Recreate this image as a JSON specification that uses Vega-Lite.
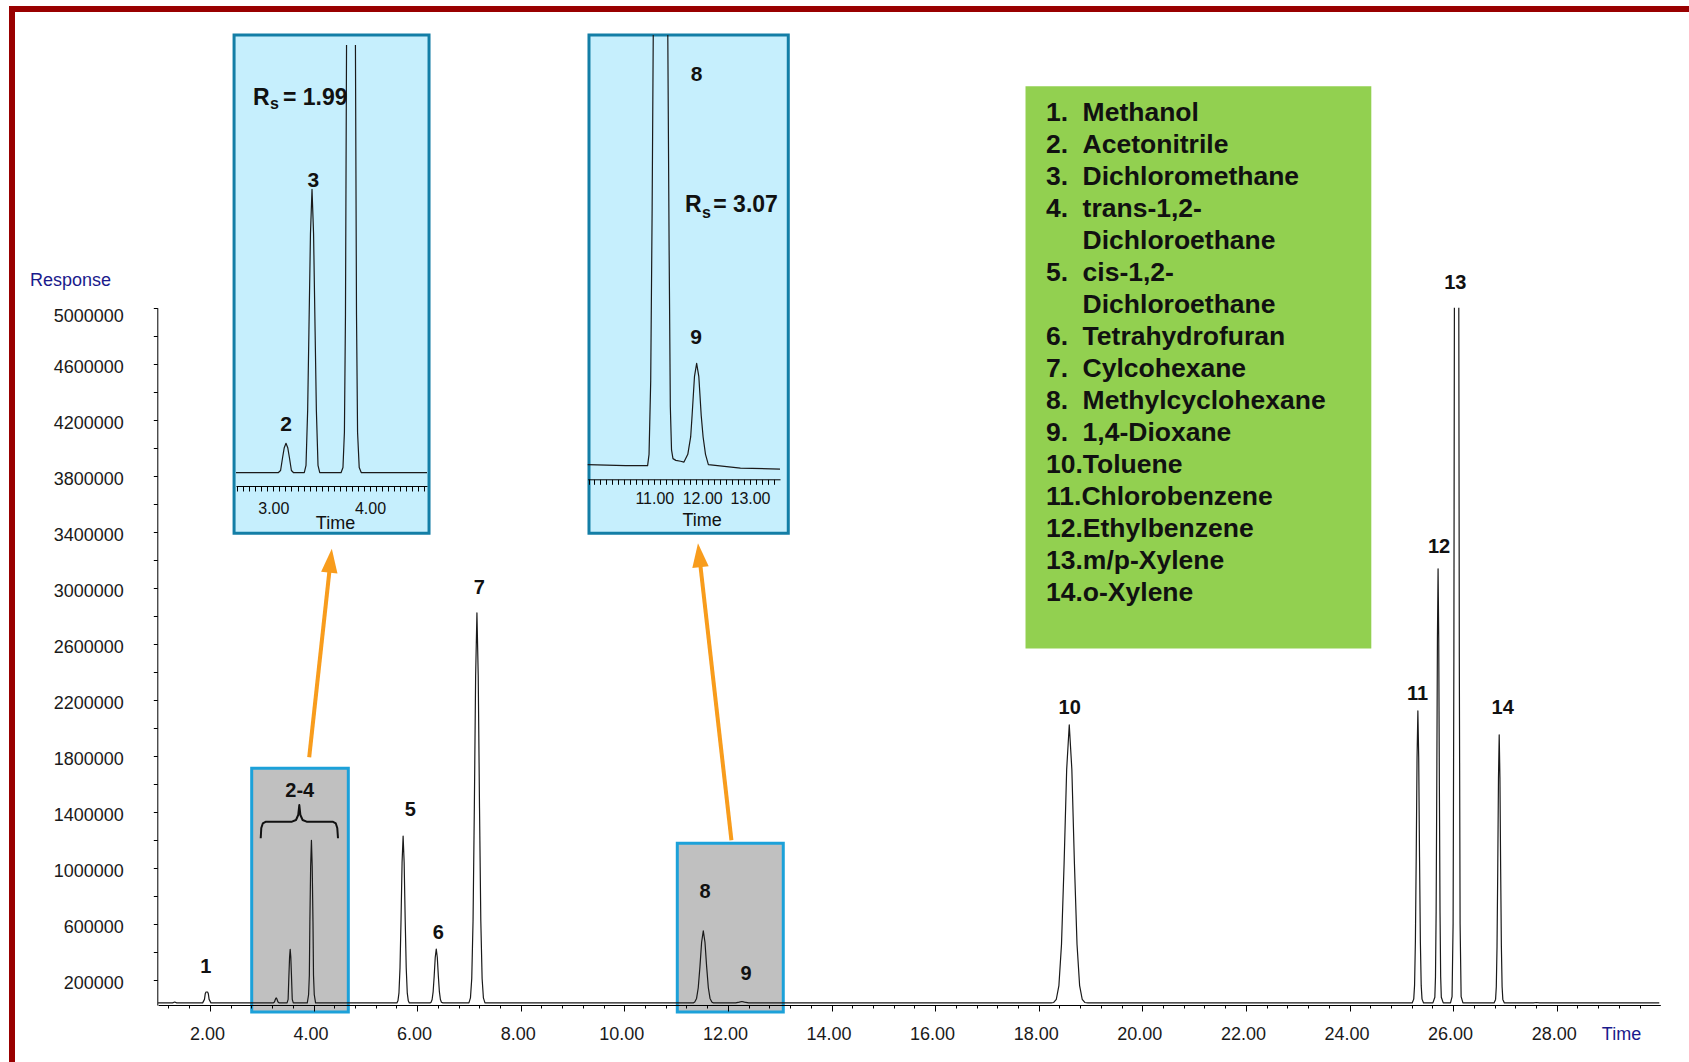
{
  "$schema": "https://vega.github.io/schema/vega-lite/v6.json",
  "width": 1677,
  "height": 1053,
  "autosize": {"type": "none"},
  "padding": {"left": 12, "top": 9, "right": 0, "bottom": 0},
  "background": "#ffffff",
  "config": {
    "view": {"stroke": "#990000", "strokeWidth": 6, "strokeDash": [1677, 2730, 1053], "strokeCap": "square"},
    "font": "Liberation Sans"
  },
  "datasets": {
    "boxes": [
      {"t": 2.807, "t2": 4.672, "r": 1710500, "r2": -30000},
      {"t": 11.023, "t2": 13.069, "r": 1174900, "r2": -30000}
    ],
    "trace": [
      {"t": 1.0, "r": 35000, "seg": "a"}, {"t": 1.28, "r": 35000, "seg": "a"}, {"t": 1.32, "r": 41000, "seg": "a"}, {"t": 1.36, "r": 35000, "seg": "a"},
      {"t": 1.86, "r": 35000, "seg": "a"}, {"t": 1.895, "r": 60000, "seg": "a"}, {"t": 1.91, "r": 100000, "seg": "a"}, {"t": 1.925, "r": 113000, "seg": "a"}, {"t": 1.955, "r": 113000, "seg": "a"}, {"t": 1.97, "r": 100000, "seg": "a"}, {"t": 1.985, "r": 60000, "seg": "a"}, {"t": 2.02, "r": 35000, "seg": "a"},
      {"t": 3.22, "r": 35000, "seg": "a"}, {"t": 3.245, "r": 42000, "seg": "a"}, {"t": 3.26, "r": 55000, "seg": "a"}, {"t": 3.27, "r": 66000, "seg": "a"}, {"t": 3.28, "r": 70000, "seg": "a"}, {"t": 3.29, "r": 66000, "seg": "a"}, {"t": 3.30, "r": 55000, "seg": "a"}, {"t": 3.315, "r": 42000, "seg": "a"}, {"t": 3.34, "r": 35000, "seg": "a"},
      {"t": 3.49, "r": 35000, "seg": "a"}, {"t": 3.51, "r": 60000, "seg": "a"}, {"t": 3.525, "r": 227000, "seg": "a"}, {"t": 3.538, "r": 360000, "seg": "a"}, {"t": 3.55, "r": 418000, "seg": "a"}, {"t": 3.562, "r": 360000, "seg": "a"}, {"t": 3.575, "r": 227000, "seg": "a"}, {"t": 3.59, "r": 60000, "seg": "a"}, {"t": 3.61, "r": 35000, "seg": "a"},
      {"t": 3.88, "r": 35000, "seg": "a"}, {"t": 3.905, "r": 93000, "seg": "a"}, {"t": 3.92, "r": 232000, "seg": "a"}, {"t": 3.93, "r": 615000, "seg": "a"}, {"t": 3.945, "r": 1010000, "seg": "a"}, {"t": 3.96, "r": 1196000, "seg": "a"}, {"t": 3.975, "r": 1010000, "seg": "a"}, {"t": 3.99, "r": 615000, "seg": "a"}, {"t": 4.0, "r": 232000, "seg": "a"}, {"t": 4.015, "r": 93000, "seg": "a"}, {"t": 4.04, "r": 35000, "seg": "a"},
      {"t": 5.61, "r": 35000, "seg": "a"}, {"t": 5.63, "r": 50000, "seg": "a"}, {"t": 5.65, "r": 107000, "seg": "a"}, {"t": 5.67, "r": 285000, "seg": "a"}, {"t": 5.69, "r": 631000, "seg": "a"}, {"t": 5.71, "r": 1037000, "seg": "a"}, {"t": 5.73, "r": 1227000, "seg": "a"}, {"t": 5.75, "r": 1037000, "seg": "a"}, {"t": 5.77, "r": 631000, "seg": "a"}, {"t": 5.79, "r": 285000, "seg": "a"}, {"t": 5.81, "r": 107000, "seg": "a"}, {"t": 5.83, "r": 50000, "seg": "a"}, {"t": 5.85, "r": 35000, "seg": "a"},
      {"t": 6.25, "r": 35000, "seg": "a"}, {"t": 6.27, "r": 40000, "seg": "a"}, {"t": 6.29, "r": 59000, "seg": "a"}, {"t": 6.31, "r": 116000, "seg": "a"}, {"t": 6.33, "r": 227000, "seg": "a"}, {"t": 6.35, "r": 359000, "seg": "a"}, {"t": 6.37, "r": 420000, "seg": "a"}, {"t": 6.39, "r": 359000, "seg": "a"}, {"t": 6.41, "r": 227000, "seg": "a"}, {"t": 6.43, "r": 116000, "seg": "a"}, {"t": 6.45, "r": 59000, "seg": "a"}, {"t": 6.47, "r": 40000, "seg": "a"}, {"t": 6.5, "r": 35000, "seg": "a"},
      {"t": 7.0, "r": 35000, "seg": "a"}, {"t": 7.03, "r": 71000, "seg": "a"}, {"t": 7.055, "r": 209000, "seg": "a"}, {"t": 7.08, "r": 620000, "seg": "a"}, {"t": 7.105, "r": 1427000, "seg": "a"}, {"t": 7.13, "r": 2374000, "seg": "a"}, {"t": 7.155, "r": 2820000, "seg": "a"}, {"t": 7.18, "r": 2374000, "seg": "a"}, {"t": 7.205, "r": 1427000, "seg": "a"}, {"t": 7.23, "r": 620000, "seg": "a"}, {"t": 7.255, "r": 209000, "seg": "a"}, {"t": 7.28, "r": 71000, "seg": "a"}, {"t": 7.31, "r": 35000, "seg": "a"},
      {"t": 11.33, "r": 35000, "seg": "a"}, {"t": 11.36, "r": 42000, "seg": "a"}, {"t": 11.395, "r": 67000, "seg": "a"}, {"t": 11.4275, "r": 143000, "seg": "a"}, {"t": 11.46, "r": 292000, "seg": "a"}, {"t": 11.4925, "r": 468000, "seg": "a"}, {"t": 11.525, "r": 550000, "seg": "a"}, {"t": 11.5575, "r": 468000, "seg": "a"}, {"t": 11.59, "r": 292000, "seg": "a"}, {"t": 11.6225, "r": 143000, "seg": "a"}, {"t": 11.655, "r": 67000, "seg": "a"}, {"t": 11.69, "r": 42000, "seg": "a"}, {"t": 11.72, "r": 35000, "seg": "a"},
      {"t": 12.15, "r": 35000, "seg": "a"}, {"t": 12.22, "r": 40000, "seg": "a"}, {"t": 12.27, "r": 45000, "seg": "a"}, {"t": 12.32, "r": 40000, "seg": "a"}, {"t": 12.4, "r": 35000, "seg": "a"},
      {"t": 18.24, "r": 35000, "seg": "a"}, {"t": 18.29, "r": 38000, "seg": "a"}, {"t": 18.34, "r": 61000, "seg": "a"}, {"t": 18.39, "r": 159000, "seg": "a"}, {"t": 18.44, "r": 452000, "seg": "a"}, {"t": 18.49, "r": 1027000, "seg": "a"}, {"t": 18.54, "r": 1702000, "seg": "a"}, {"t": 18.59, "r": 2020000, "seg": "a"}, {"t": 18.64, "r": 1702000, "seg": "a"}, {"t": 18.69, "r": 1027000, "seg": "a"}, {"t": 18.74, "r": 452000, "seg": "a"}, {"t": 18.79, "r": 159000, "seg": "a"}, {"t": 18.84, "r": 61000, "seg": "a"}, {"t": 18.89, "r": 38000, "seg": "a"}, {"t": 18.95, "r": 35000, "seg": "a"},
      {"t": 25.21, "r": 35000, "seg": "a"}, {"t": 25.24, "r": 62000, "seg": "a"}, {"t": 25.256, "r": 160000, "seg": "a"}, {"t": 25.272, "r": 473000, "seg": "a"}, {"t": 25.288, "r": 1077000, "seg": "a"}, {"t": 25.304, "r": 1786000, "seg": "a"}, {"t": 25.32, "r": 2120000, "seg": "a"}, {"t": 25.336, "r": 1786000, "seg": "a"}, {"t": 25.352, "r": 1077000, "seg": "a"}, {"t": 25.368, "r": 473000, "seg": "a"}, {"t": 25.384, "r": 160000, "seg": "a"}, {"t": 25.4, "r": 62000, "seg": "a"}, {"t": 25.43, "r": 35000, "seg": "a"},
      {"t": 25.61, "r": 35000, "seg": "a"}, {"t": 25.6475, "r": 75000, "seg": "a"}, {"t": 25.66, "r": 221000, "seg": "a"}, {"t": 25.6725, "r": 686000, "seg": "a"}, {"t": 25.685, "r": 1585000, "seg": "a"}, {"t": 25.6975, "r": 2639000, "seg": "a"}, {"t": 25.71, "r": 3135000, "seg": "a"}, {"t": 25.7225, "r": 2639000, "seg": "a"}, {"t": 25.735, "r": 1585000, "seg": "a"}, {"t": 25.7475, "r": 686000, "seg": "a"}, {"t": 25.76, "r": 221000, "seg": "a"}, {"t": 25.7725, "r": 75000, "seg": "a"}, {"t": 25.81, "r": 35000, "seg": "a"},
      {"t": 25.95, "r": 35000, "seg": "a"}, {"t": 25.98, "r": 80000, "seg": "a"}, {"t": 26.0, "r": 600000, "seg": "a"}, {"t": 26.015, "r": 2500000, "seg": "a"}, {"t": 26.025, "r": 5000000, "seg": "a"},
      {"t": 26.11, "r": 5000000, "seg": "b"}, {"t": 26.12, "r": 2500000, "seg": "b"}, {"t": 26.135, "r": 600000, "seg": "b"}, {"t": 26.155, "r": 80000, "seg": "b"}, {"t": 26.19, "r": 35000, "seg": "b"},
      {"t": 26.79, "r": 35000, "seg": "b"}, {"t": 26.82, "r": 60000, "seg": "b"}, {"t": 26.834, "r": 150000, "seg": "b"}, {"t": 26.848, "r": 437000, "seg": "b"}, {"t": 26.862, "r": 992000, "seg": "b"}, {"t": 26.876, "r": 1644000, "seg": "b"}, {"t": 26.89, "r": 1950000, "seg": "b"}, {"t": 26.904, "r": 1644000, "seg": "b"}, {"t": 26.918, "r": 992000, "seg": "b"}, {"t": 26.932, "r": 437000, "seg": "b"}, {"t": 26.946, "r": 150000, "seg": "b"}, {"t": 26.96, "r": 60000, "seg": "b"}, {"t": 26.99, "r": 35000, "seg": "b"},
      {"t": 27.55, "r": 35000, "seg": "b"}, {"t": 27.61, "r": 38000, "seg": "b"}, {"t": 27.67, "r": 35000, "seg": "b"}, {"t": 29.98, "r": 35000, "seg": "b"}
    ],
    "brace": [
      {"i": 1, "t": 2.981, "r": 1210600}, {"i": 2, "t": 2.992, "r": 1284100}, {"i": 3, "t": 3.021, "r": 1316300}, {"i": 4, "t": 3.083, "r": 1329100},
      {"i": 5, "t": 3.585, "r": 1329100}, {"i": 6, "t": 3.662, "r": 1341300}, {"i": 7, "t": 3.705, "r": 1377000}, {"i": 8, "t": 3.726, "r": 1448400},
      {"i": 9, "t": 3.747, "r": 1377000}, {"i": 10, "t": 3.79, "r": 1341300}, {"i": 11, "t": 3.867, "r": 1329100}, {"i": 12, "t": 4.369, "r": 1329100},
      {"i": 13, "t": 4.431, "r": 1316300}, {"i": 14, "t": 4.459, "r": 1284100}, {"i": 15, "t": 4.473, "r": 1210600}
    ],
    "arrows": [
      {"id": 1, "t": 3.917, "r": 1789100, "t2": 4.328, "r2": 3188900},
      {"id": 2, "t": 12.068, "r": 1197000, "t2": 11.448, "r2": 3227500}
    ],
    "heads": [
      {"id": 1, "t": 4.328, "r": 3188900},
      {"id": 2, "t": 11.448, "r": 3227500}
    ],
    "labels": [
      {"t": 1.919, "r": 291400, "label": "1"},
      {"t": 3.735, "r": 1550000, "label": "2-4"},
      {"t": 5.871, "r": 1412700, "label": "5"},
      {"t": 6.411, "r": 535600, "label": "6"},
      {"t": 7.203, "r": 2998200, "label": "7"},
      {"t": 11.558, "r": 829200, "label": "8"},
      {"t": 12.349, "r": 241400, "label": "9"},
      {"t": 18.599, "r": 2143300, "label": "10"},
      {"t": 25.315, "r": 2243300, "label": "11"},
      {"t": 25.73, "r": 3289600, "label": "12"},
      {"t": 26.042, "r": 5174400, "label": "13"},
      {"t": 26.957, "r": 2143300, "label": "14"}
    ],
    "insetbox1": [{"t": 2.594, "t2": 4.61, "r": 629700, "r2": -47300}],
    "inset1": [
      {"t": 2.614, "r": 35000, "seg": "a"}, {"t": 3.05, "r": 35000, "seg": "a"}, {"t": 3.075, "r": 38000, "seg": "a"}, {"t": 3.095, "r": 55000, "seg": "a"}, {"t": 3.113, "r": 69000, "seg": "a"}, {"t": 3.131, "r": 74900, "seg": "a"}, {"t": 3.149, "r": 69000, "seg": "a"}, {"t": 3.167, "r": 55000, "seg": "a"}, {"t": 3.187, "r": 38000, "seg": "a"}, {"t": 3.21, "r": 35000, "seg": "a"},
      {"t": 3.32, "r": 35000, "seg": "a"}, {"t": 3.338, "r": 45000, "seg": "a"}, {"t": 3.355, "r": 120000, "seg": "a"}, {"t": 3.368, "r": 227000, "seg": "a"}, {"t": 3.384, "r": 360000, "seg": "a"}, {"t": 3.4, "r": 420000, "seg": "a"}, {"t": 3.416, "r": 360000, "seg": "a"}, {"t": 3.432, "r": 227000, "seg": "a"}, {"t": 3.445, "r": 120000, "seg": "a"}, {"t": 3.462, "r": 45000, "seg": "a"}, {"t": 3.48, "r": 35000, "seg": "a"},
      {"t": 3.7, "r": 35000, "seg": "a"}, {"t": 3.72, "r": 42000, "seg": "a"}, {"t": 3.735, "r": 90000, "seg": "a"}, {"t": 3.746, "r": 250000, "seg": "a"}, {"t": 3.757, "r": 616000, "seg": "a"},
      {"t": 3.849, "r": 616000, "seg": "b"}, {"t": 3.86, "r": 250000, "seg": "b"}, {"t": 3.871, "r": 90000, "seg": "b"}, {"t": 3.888, "r": 42000, "seg": "b"}, {"t": 3.91, "r": 35000, "seg": "b"}, {"t": 4.589, "r": 35000, "seg": "b"}
    ],
    "inset1text": [
      {"t": 3.414, "r": 431700, "label": "3"},
      {"t": 3.131, "r": 99800, "label": "2"}
    ],
    "inset1rs": [
      {"t": 2.79, "r": 544100, "label": "R"},
      {"t": 3.1, "r": 544100, "label": "= 1.99"}
    ],
    "inset1sub": [{"t": 2.966, "r": 535900, "label": "s"}],
    "insetbox2": [{"t": 9.635, "t2": 13.8, "r": 84887, "r2": 27384}],
    "inset2": [
      {"t": 9.608, "r": 35300, "seg": "a"}, {"t": 10.4, "r": 35200, "seg": "a"}, {"t": 10.86, "r": 35200, "seg": "a"}, {"t": 10.89, "r": 36500, "seg": "a"}, {"t": 10.925, "r": 45000, "seg": "a"}, {"t": 10.955, "r": 65000, "seg": "a"}, {"t": 10.978, "r": 84887, "seg": "a"},
      {"t": 11.282, "r": 84887, "seg": "b"}, {"t": 11.31, "r": 60000, "seg": "b"}, {"t": 11.335, "r": 42000, "seg": "b"}, {"t": 11.36, "r": 37000, "seg": "b"}, {"t": 11.39, "r": 36000, "seg": "b"}, {"t": 11.45, "r": 35800, "seg": "b"}, {"t": 11.55, "r": 35700, "seg": "b"}, {"t": 11.62, "r": 35600, "seg": "b"},
      {"t": 11.7, "r": 36500, "seg": "b"}, {"t": 11.76, "r": 38500, "seg": "b"}, {"t": 11.79, "r": 41000, "seg": "b"}, {"t": 11.84, "r": 45500, "seg": "b"}, {"t": 11.885, "r": 47000, "seg": "b"}, {"t": 11.93, "r": 45500, "seg": "b"}, {"t": 11.98, "r": 41000, "seg": "b"}, {"t": 12.02, "r": 38500, "seg": "b"}, {"t": 12.07, "r": 36500, "seg": "b"}, {"t": 12.13, "r": 35300, "seg": "b"},
      {"t": 12.8, "r": 34900, "seg": "b"}, {"t": 13.627, "r": 34800, "seg": "b"}
    ],
    "inset2text": [
      {"t": 11.886, "r": 80270, "label": "8"},
      {"t": 11.871, "r": 49890, "label": "9"}
    ],
    "inset2rs": [
      {"t": 11.642, "r": 65270, "label": "R"},
      {"t": 12.233, "r": 65270, "label": "= 3.07"}
    ],
    "inset2sub": [{"t": 11.997, "r": 64346, "label": "s"}],
    "legendbox": [{"c": -0.56, "c2": 8.888, "l": 0.159, "l2": 17.73}],
    "legend": [
      {"c": 0, "l": 1, "text": "1."}, {"c": 1, "l": 1, "text": "Methanol"},
      {"c": 0, "l": 2, "text": "2."}, {"c": 1, "l": 2, "text": "Acetonitrile"},
      {"c": 0, "l": 3, "text": "3."}, {"c": 1, "l": 3, "text": "Dichloromethane"},
      {"c": 0, "l": 4, "text": "4."}, {"c": 1, "l": 4, "text": "trans-1,2-"},
      {"c": 1, "l": 5, "text": "Dichloroethane"},
      {"c": 0, "l": 6, "text": "5."}, {"c": 1, "l": 6, "text": "cis-1,2-"},
      {"c": 1, "l": 7, "text": "Dichloroethane"},
      {"c": 0, "l": 8, "text": "6."}, {"c": 1, "l": 8, "text": "Tetrahydrofuran"},
      {"c": 0, "l": 9, "text": "7."}, {"c": 1, "l": 9, "text": "Cylcohexane"},
      {"c": 0, "l": 10, "text": "8."}, {"c": 1, "l": 10, "text": "Methylcyclohexane"},
      {"c": 0, "l": 11, "text": "9."}, {"c": 1, "l": 11, "text": "1,4-Dioxane"},
      {"c": 0, "l": 12, "text": "10.Toluene"},
      {"c": 0, "l": 13, "text": "11.Chlorobenzene"},
      {"c": 0, "l": 14, "text": "12.Ethylbenzene"},
      {"c": 0, "l": 15, "text": "13.m/p-Xylene"},
      {"c": 0, "l": 16, "text": "14.o-Xylene"}
    ]
  },
  "resolve": {"scale": {"x": "independent", "y": "independent"}, "axis": {"x": "independent", "y": "independent"}},
  "layer": [
    {
      "encoding": {
        "x": {
          "field": "t", "type": "quantitative",
          "scale": {"domain": [1, 30], "range": [146.1, 1648.3], "nice": false, "zero": false},
          "axis": {
            "orient": "bottom", "offset": -57, "zindex": 1, "grid": false,
            "values": [1.2,1.6,2,2.4,2.8,3.2,3.6,4,4.4,4.8,5.2,5.6,6,6.4,6.8,7.2,7.6,8,8.4,8.8,9.2,9.6,10,10.4,10.8,11.2,11.6,12,12.4,12.8,13.2,13.6,14,14.4,14.8,15.2,15.6,16,16.4,16.8,17.2,17.6,18,18.4,18.8,19.2,19.6,20,20.4,20.8,21.2,21.6,22,22.4,22.8,23.2,23.6,24,24.4,24.8,25.2,25.6,26,26.4,26.8,27.2,27.6,28,28.4,28.8,29.2,29.6],
            "labelExpr": "datum.value % 2 === 0 ? format(datum.value, '.2f') : ''",
            "tickSize": {"condition": {"test": "datum.value % 2 === 0", "value": 6}, "value": 3},
            "tickColor": "#000000", "domainColor": "#000000", "tickWidth": 1, "domainWidth": 1,
            "labelFont": "Liberation Sans", "labelFontSize": 18, "labelColor": "#1a1a1a", "labelPadding": 14,
            "labelOverlap": false, "labelFlush": false, "labelOffset": -3,
            "title": "Time", "titleX": 1609, "titleY": 29, "titleFont": "Liberation Sans", "titleFontSize": 18,
            "titleFontWeight": "normal", "titleColor": "#1a1a8c", "titleAlign": "center", "titleBaseline": "middle"
          }
        },
        "y": {
          "field": "r", "type": "quantitative",
          "scale": {"domain": [20000, 5000000], "range": [996, 298.7], "nice": false, "zero": false},
          "axis": {
            "orient": "left", "offset": -145.3, "zindex": 1, "grid": false,
            "values": [200000,400000,600000,800000,1000000,1200000,1400000,1600000,1800000,2000000,2200000,2400000,2600000,2800000,3000000,3200000,3400000,3600000,3800000,4000000,4200000,4400000,4600000,4800000,5000000],
            "labelExpr": "(datum.value - 200000) % 400000 === 0 ? format(datum.value, 'd') : ''",
            "tickSize": 4, "tickColor": "#000000", "domainColor": "#000000",
            "labelFont": "Liberation Sans", "labelFontSize": 18, "labelColor": "#1a1a1a", "labelPadding": 30,
            "labelOverlap": false, "labelFlush": false,
            "labelOffset": {"condition": {"test": "datum.value === 5000000", "value": 9}, "value": 4},
            "title": "Response", "titleX": -87.3, "titleY": 271, "titleAngle": 0, "titleFont": "Liberation Sans",
            "titleFontSize": 18, "titleFontWeight": "normal", "titleColor": "#1a1a8c", "titleAlign": "center", "titleBaseline": "middle"
          }
        }
      },
      "layer": [
        {
          "data": {"name": "boxes"},
          "mark": {"type": "rect", "fill": "#c0c0c0", "stroke": "#1ca1d9", "strokeWidth": 3},
          "encoding": {"x2": {"field": "t2"}, "y2": {"field": "r2"}}
        },
        {
          "data": {"name": "trace"},
          "mark": {"type": "line", "color": "#1a1a1a", "strokeWidth": 1.2, "strokeJoin": "round"},
          "encoding": {"detail": {"field": "seg", "type": "nominal"}}
        },
        {
          "data": {"name": "brace"},
          "mark": {"type": "line", "color": "#111111", "strokeWidth": 2, "strokeJoin": "round"},
          "encoding": {"order": {"field": "i", "type": "quantitative"}}
        },
        {
          "data": {"name": "arrows"},
          "mark": {"type": "rule", "color": "#f89c1c", "strokeWidth": 4},
          "encoding": {"x2": {"field": "t2"}, "y2": {"field": "r2"}}
        },
        {
          "data": {"name": "heads"},
          "transform": [{"filter": "datum.id === 1"}],
          "mark": {"type": "point", "shape": "M0,-1L0.65,0.9L-0.65,0.9Z", "filled": true, "size": 640, "angle": 6, "color": "#f89c1c", "opacity": 1, "strokeWidth": 0}
        },
        {
          "data": {"name": "heads"},
          "transform": [{"filter": "datum.id === 2"}],
          "mark": {"type": "point", "shape": "M0,-1L0.65,0.9L-0.65,0.9Z", "filled": true, "size": 640, "angle": 354, "color": "#f89c1c", "opacity": 1, "strokeWidth": 0}
        },
        {
          "data": {"name": "labels"},
          "mark": {"type": "text", "font": "Liberation Sans", "fontWeight": "bold", "fontSize": 20, "color": "#111111", "align": "center", "baseline": "middle"},
          "encoding": {"text": {"field": "label", "type": "nominal"}}
        }
      ]
    },
    {
      "encoding": {
        "x": {"field": "c", "type": "quantitative", "scale": {"domain": [0, 1], "range": [1034, 1070.6], "nice": false, "zero": false}, "axis": null},
        "y": {"field": "l", "type": "quantitative", "scale": {"domain": [1, 16], "range": [104.1, 584.1], "nice": false, "zero": false}, "axis": null}
      },
      "layer": [
        {
          "data": {"name": "legendbox"},
          "mark": {"type": "rect", "fill": "#92d050"},
          "encoding": {"x2": {"field": "c2"}, "y2": {"field": "l2"}}
        },
        {
          "data": {"name": "legend"},
          "mark": {"type": "text", "font": "Liberation Sans", "fontWeight": "bold", "fontSize": 26.5, "color": "#111111", "align": "left", "baseline": "middle"},
          "encoding": {"text": {"field": "text", "type": "nominal"}}
        }
      ]
    },
    {
      "encoding": {
        "x": {
          "field": "t", "type": "quantitative",
          "scale": {"domain": [2.614, 4.589], "range": [224, 415], "nice": false, "zero": false},
          "axis": {
            "orient": "bottom", "offset": -576, "zindex": 1, "grid": false,
            "values": [2.625,2.6875,2.75,2.8125,2.875,2.9375,3,3.0625,3.125,3.1875,3.25,3.3125,3.375,3.4375,3.5,3.5625,3.625,3.6875,3.75,3.8125,3.875,3.9375,4,4.0625,4.125,4.1875,4.25,4.3125,4.375,4.4375,4.5,4.5625],
            "labelExpr": "datum.value === 3 || datum.value === 4 ? format(datum.value, '.2f') : ''",
            "tickSize": 5, "tickColor": "#000000", "domainColor": "#000000",
            "labelFont": "Liberation Sans", "labelFontSize": 16, "labelColor": "#111111", "labelPadding": 9,
            "labelOverlap": false, "labelFlush": false,
            "title": "Time", "titleX": 323, "titleY": 37, "titleFont": "Liberation Sans", "titleFontSize": 18,
            "titleFontWeight": "normal", "titleColor": "#111111", "titleAlign": "center", "titleBaseline": "middle"
          }
        },
        "y": {"field": "r", "type": "quantitative", "scale": {"domain": [16930, 629700], "range": [477, 26], "nice": false, "zero": false}, "axis": null}
      },
      "layer": [
        {
          "data": {"name": "insetbox1"},
          "mark": {"type": "rect", "fill": "#c6effd", "stroke": "#137ea6", "strokeWidth": 3},
          "encoding": {"x2": {"field": "t2"}, "y2": {"field": "r2"}}
        },
        {
          "data": {"name": "inset1"},
          "mark": {"type": "line", "color": "#1a1a1a", "strokeWidth": 1.2, "strokeJoin": "round"},
          "encoding": {"detail": {"field": "seg", "type": "nominal"}}
        },
        {
          "data": {"name": "inset1text"},
          "mark": {"type": "text", "font": "Liberation Sans", "fontWeight": "bold", "fontSize": 21, "color": "#111111", "align": "center", "baseline": "middle"},
          "encoding": {"text": {"field": "label", "type": "nominal"}}
        },
        {
          "data": {"name": "inset1rs"},
          "mark": {"type": "text", "font": "Liberation Sans", "fontWeight": "bold", "fontSize": 23, "color": "#111111", "align": "left", "baseline": "middle"},
          "encoding": {"text": {"field": "label", "type": "nominal"}}
        },
        {
          "data": {"name": "inset1sub"},
          "mark": {"type": "text", "font": "Liberation Sans", "fontWeight": "bold", "fontSize": 16, "color": "#111111", "align": "left", "baseline": "middle"},
          "encoding": {"text": {"field": "label", "type": "nominal"}}
        }
      ]
    },
    {
      "encoding": {
        "x": {
          "field": "t", "type": "quantitative",
          "scale": {"domain": [9.608, 13.627], "range": [575.7, 768], "nice": false, "zero": false},
          "axis": {
            "orient": "bottom", "offset": -582.7, "zindex": 1, "grid": false,
            "values": [9.625,9.75,9.875,10,10.125,10.25,10.375,10.5,10.625,10.75,10.875,11,11.125,11.25,11.375,11.5,11.625,11.75,11.875,12,12.125,12.25,12.375,12.5,12.625,12.75,12.875,13,13.125,13.25,13.375,13.5],
            "labelExpr": "datum.value === 11 || datum.value === 12 || datum.value === 13 ? format(datum.value, '.2f') : ''",
            "tickSize": 5, "tickColor": "#000000", "domainColor": "#000000",
            "labelFont": "Liberation Sans", "labelFontSize": 16, "labelColor": "#111111", "labelPadding": 6,
            "labelOverlap": false, "labelFlush": false,
            "title": "Time", "titleX": 689.7, "titleY": 40.7, "titleFont": "Liberation Sans", "titleFontSize": 18,
            "titleFontWeight": "normal", "titleColor": "#111111", "titleAlign": "center", "titleBaseline": "middle"
          }
        },
        "y": {"field": "r", "type": "quantitative", "scale": {"domain": [33615, 84887], "range": [470.3, 26], "nice": false, "zero": false}, "axis": null}
      },
      "layer": [
        {
          "data": {"name": "insetbox2"},
          "mark": {"type": "rect", "fill": "#c6effd", "stroke": "#137ea6", "strokeWidth": 3},
          "encoding": {"x2": {"field": "t2"}, "y2": {"field": "r2"}}
        },
        {
          "data": {"name": "inset2"},
          "mark": {"type": "line", "color": "#1a1a1a", "strokeWidth": 1.2, "strokeJoin": "round"},
          "encoding": {"detail": {"field": "seg", "type": "nominal"}}
        },
        {
          "data": {"name": "inset2text"},
          "mark": {"type": "text", "font": "Liberation Sans", "fontWeight": "bold", "fontSize": 21, "color": "#111111", "align": "center", "baseline": "middle"},
          "encoding": {"text": {"field": "label", "type": "nominal"}}
        },
        {
          "data": {"name": "inset2rs"},
          "mark": {"type": "text", "font": "Liberation Sans", "fontWeight": "bold", "fontSize": 23, "color": "#111111", "align": "left", "baseline": "middle"},
          "encoding": {"text": {"field": "label", "type": "nominal"}}
        },
        {
          "data": {"name": "inset2sub"},
          "mark": {"type": "text", "font": "Liberation Sans", "fontWeight": "bold", "fontSize": 16, "color": "#111111", "align": "left", "baseline": "middle"},
          "encoding": {"text": {"field": "label", "type": "nominal"}}
        }
      ]
    }
  ]
}
